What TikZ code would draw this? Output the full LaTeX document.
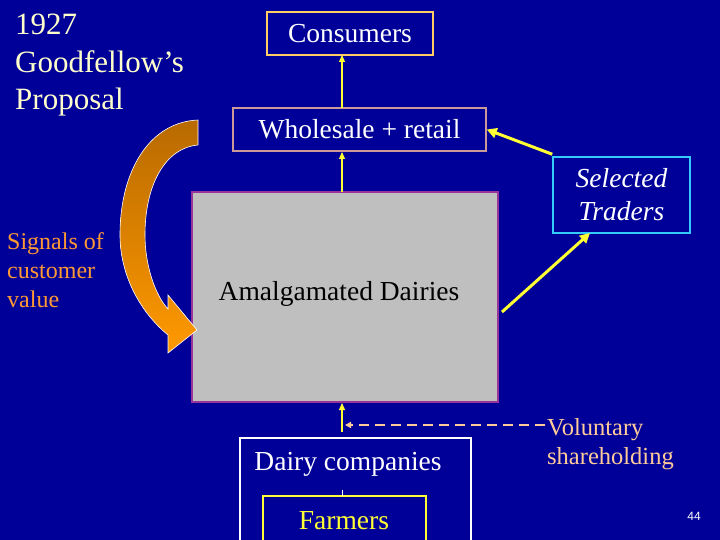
\documentclass[tikz,border=0pt]{standalone}
\usepackage{fontspec}
\setmainfont{Liberation Serif}
\setsansfont{Liberation Sans}
\usetikzlibrary{arrows.meta}
\definecolor{bg}{HTML}{000099}
\definecolor{ttl}{HTML}{FFFFCC}
\definecolor{org}{HTML}{FF9933}
\definecolor{org2}{HTML}{FF9900}
\definecolor{brn}{HTML}{B86A00}
\definecolor{pnk}{HTML}{FFCC99}
\definecolor{ylw}{HTML}{FFFF33}
\definecolor{cyn}{HTML}{33CCFF}
\definecolor{purp}{HTML}{993399}
\definecolor{wb}{HTML}{CC9999}
\definecolor{cb}{HTML}{FFCC66}
\tikzset{
  box/.style={draw, line width=1.5pt, inner sep=0pt, text=white, font=\fontsize{27.5}{32}\selectfont},
  yarr/.style={draw=ylw, line width=1.2pt, -{Triangle[length=7pt,width=6pt]}},
  tarr/.style={draw=ylw, line width=3pt, -{Triangle[length=10pt,width=10pt]}},
}
\begin{document}
\begin{tikzpicture}[x=1pt,y=-1pt]
\fill[bg] (0,0) rectangle (720,540);
\useasboundingbox (0,0) rectangle (720,540);
\node[anchor=north west, align=left, text=ttl, font=\fontsize{31}{37.5}\selectfont, inner sep=0pt] (title) at (15,14) {1927\\Goodfellow’s\\Proposal};
\node[box, draw=cb, minimum width=166pt, minimum height=43pt] (cons) at (350,33.5) {Consumers};
\node[box, draw=wb, minimum width=253pt, minimum height=43pt] (whole) at (359.5,129.5) {Wholesale + retail};
\node[box, draw=cyn, minimum width=137pt, minimum height=76pt, align=center, font=\fontsize{27.5}{33}\itshape\selectfont] (sel) at (621.5,195) {Selected\\Traders};
\node[draw=purp, line width=1.5pt, fill=gray!50!white, minimum width=306pt, minimum height=210pt, inner sep=0pt] (amal) at (345,297) {};
\node[font=\fontsize{27.5}{32}\selectfont, text=black] (amaltxt) at (339,294) {Amalgamated Dairies};
\node[anchor=north west, align=left, text=org, font=\fontsize{24}{29}\selectfont, inner sep=0pt] (sig) at (7,232) {Signals of\\customer\\value};
\draw[white, line width=1.5pt] (240,560) -- (240,438) -- (471,438) -- (471,560);
\node[text=white, font=\fontsize{27.5}{32}\selectfont] (dairy) at (348,464) {Dairy companies};
\draw[ylw, line width=1.5pt] (263,560) -- (263,496) -- (426,496) -- (426,560);
\node[text=ylw, font=\fontsize{27.5}{32}\selectfont] (farm) at (344,521) {Farmers};
\coordinate (ftop) at (342,496);
\draw[white, line width=1pt] (342,490) -- (ftop);
\coordinate (w1) at (342,108);
\draw[yarr] (w1) -- (342,55);
\draw[yarr] (342,192) -- (342,152);
\draw[yarr] (342,432) -- (342,403);
\draw[tarr] (sel.north west) ++(0,-2) -- (whole.east);
\coordinate (as) at (502,312);
\draw[tarr] (as) -- (590,233);
\node[anchor=north west, align=left, text=pnk, font=\fontsize{24.5}{29}\selectfont, inner sep=0pt] (vol) at (547,418) {Voluntary\\shareholding};
\draw[pnk, line width=1.5pt, dashed, dash pattern=on 10pt off 6pt, -{Triangle[length=6pt,width=6pt]}] (545,425) -- (345,425);
\node[text=white, font=\sffamily\fontsize{12}{14}\selectfont] (pg) at (694,516) {44};
\shade[top color=brn, bottom color=org2, draw=white, line width=0.6pt]
 (198,120) .. controls (150,122) and (120,170) .. (120,235)
 .. controls (120,275) and (140,312) .. (168,335) -- (168,353) -- (197,330) -- (168,295) -- (168,309)
 .. controls (155,295) and (145,265) .. (145,235)
 .. controls (145,185) and (165,148) .. (198,145) -- cycle;
\end{tikzpicture}
\end{document}
